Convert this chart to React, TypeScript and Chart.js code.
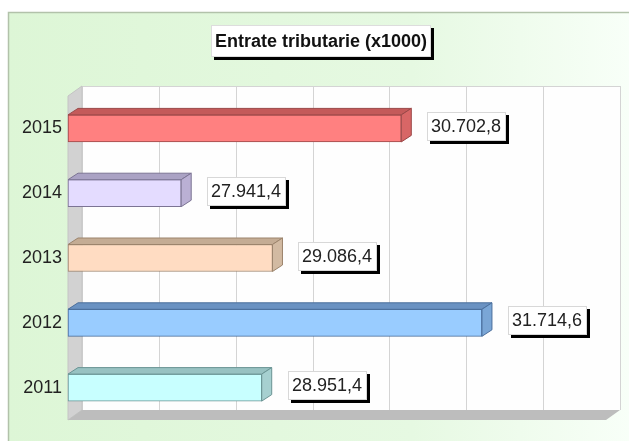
import React, { useEffect, useRef } from 'react';
import { Chart, registerables } from 'chart.js';

Chart.register(...registerables);

// ---- data ----
const years = ['2015', '2014', '2013', '2012', '2011'];
const values = [30702.8, 27941.4, 29086.4, 31714.6, 28951.4];
const titleText = 'Entrate tributarie (x1000)';

// ---- styles ----
const frontColors = ['#ff8080', '#e4dcff', '#ffdcc2', '#99ccff', '#c8ffff'];
const topColors = ['#c45a5a', '#aaa2c4', '#c4ac94', '#6a92c2', '#98c2c2'];
const sideColors = ['#d86666', '#bab0d4', '#d2baa2', '#7aa6d6', '#a6d0d0'];
const borderColors = ['#9a4848', '#7c7494', '#9c846c', '#4a6e9c', '#6a9494'];
const axisMin = 26521;
const axisMax = 33271;
const gridDivisions = 7;

const FONT = '"Liberation Sans", Arial, Helvetica, sans-serif';

function fmt(v: number): string {
  const [i, d] = v.toFixed(1).split('.');
  return i.replace(/\B(?=(\d{3})+(?!\d))/g, '.') + ',' + d;
}

const DEPTH_X = 14;
const DEPTH_Y = -10;
const BAR_DX = 10;
const BAR_DY = -6.5;

const scenePlugin = {
  id: 'scene3d',
  beforeDraw(chart: any) {
    const ctx = chart.ctx as CanvasRenderingContext2D;
    const W = chart.width;
    const H = chart.height;
    ctx.save();
    ctx.fillStyle = '#ffffff';
    ctx.fillRect(0, 0, W, H);
    // panel
    const g = ctx.createLinearGradient(8, 0, W, 0);
    g.addColorStop(0, '#ddf6d6');
    g.addColorStop(0.65, '#e6f9e2');
    g.addColorStop(1, '#f8fff8');
    ctx.fillStyle = g;
    ctx.fillRect(8, 12, W - 8, H - 12);
    ctx.strokeStyle = '#b2c2aa';
    ctx.lineWidth = 1.5;
    ctx.beginPath();
    ctx.moveTo(8.5, H);
    ctx.lineTo(8.5, 12.5);
    ctx.lineTo(W, 12.5);
    ctx.stroke();

    const { left, right, top, bottom } = chart.chartArea;
    // back wall
    const bl = left + DEPTH_X;
    const br = right + DEPTH_X;
    const bt = top + DEPTH_Y;
    const bb = bottom + DEPTH_Y;
    ctx.fillStyle = '#fefefe';
    ctx.fillRect(bl, bt, br - bl, bb - bt);
    ctx.strokeStyle = '#d4d4d4';
    ctx.lineWidth = 1;
    for (let k = 0; k <= gridDivisions; k++) {
      const x = Math.round(bl + ((br - bl) * k) / gridDivisions) + 0.5;
      ctx.beginPath();
      ctx.moveTo(x, bt);
      ctx.lineTo(x, bb);
      ctx.stroke();
    }
    ctx.beginPath();
    ctx.moveTo(bl, bt + 0.5);
    ctx.lineTo(br, bt + 0.5);
    ctx.stroke();
    // left wall
    ctx.fillStyle = '#d2d2d2';
    ctx.beginPath();
    ctx.moveTo(left, top);
    ctx.lineTo(bl, bt);
    ctx.lineTo(bl, bb);
    ctx.lineTo(left, bottom);
    ctx.closePath();
    ctx.fill();
    ctx.strokeStyle = '#c4c4c4';
    ctx.stroke();
    // floor
    ctx.fillStyle = '#bdbdbd';
    ctx.beginPath();
    ctx.moveTo(left, bottom);
    ctx.lineTo(bl, bb);
    ctx.lineTo(br, bb);
    ctx.lineTo(right, bottom);
    ctx.closePath();
    ctx.fill();
    ctx.restore();
  },
  afterDatasetsDraw(chart: any) {
    const ctx = chart.ctx as CanvasRenderingContext2D;
    const meta = chart.getDatasetMeta(0);
    ctx.save();
    meta.data.forEach((el: any, i: number) => {
      const x0 = el.base;
      const x1 = el.x;
      const yt = el.y - el.height / 2;
      const yb = el.y + el.height / 2;
      ctx.lineWidth = 1;
      ctx.strokeStyle = borderColors[i];
      // top face
      ctx.fillStyle = topColors[i];
      ctx.beginPath();
      ctx.moveTo(x0, yt);
      ctx.lineTo(x0 + BAR_DX, yt + BAR_DY);
      ctx.lineTo(x1 + BAR_DX, yt + BAR_DY);
      ctx.lineTo(x1, yt);
      ctx.closePath();
      ctx.fill();
      ctx.stroke();
      // side face
      ctx.fillStyle = sideColors[i];
      ctx.beginPath();
      ctx.moveTo(x1, yt);
      ctx.lineTo(x1 + BAR_DX, yt + BAR_DY);
      ctx.lineTo(x1 + BAR_DX, yb + BAR_DY);
      ctx.lineTo(x1, yb);
      ctx.closePath();
      ctx.fill();
      ctx.stroke();

      // value label box
      const bx = Math.round(x1 + 26);
      const bw = 79;
      const bh = 29;
      const by = Math.round(el.y - 2 - bh / 2);
      ctx.fillStyle = '#000000';
      ctx.fillRect(bx + 3, by + 3, bw, bh);
      ctx.fillStyle = '#ffffff';
      ctx.fillRect(bx, by, bw, bh);
      ctx.strokeStyle = '#d8d8d8';
      ctx.strokeRect(bx + 0.5, by + 0.5, bw - 1, bh - 1);
      ctx.fillStyle = '#222222';
      ctx.font = '18px ' + FONT;
      ctx.textAlign = 'left';
      ctx.textBaseline = 'middle';
      ctx.fillText(fmt(values[i]), bx + 4, by + bh / 2 + 1);
    });
    ctx.restore();
  },
  afterDraw(chart: any) {
    const ctx = chart.ctx as CanvasRenderingContext2D;
    ctx.save();
    ctx.font = 'bold 18px ' + FONT;
    const tw = ctx.measureText(titleText).width;
    const cx = 321;
    const bw = Math.round(tw + 8);
    const bh = 32;
    const bx = Math.round(cx - bw / 2);
    const by = 25;
    ctx.fillStyle = '#000000';
    ctx.fillRect(bx + 3, by + 3, bw, bh);
    ctx.fillStyle = '#ffffff';
    ctx.fillRect(bx, by, bw, bh);
    ctx.strokeStyle = '#dddddd';
    ctx.lineWidth = 1;
    ctx.strokeRect(bx + 0.5, by + 0.5, bw - 1, bh - 1);
    ctx.fillStyle = '#111111';
    ctx.textAlign = 'center';
    ctx.textBaseline = 'middle';
    ctx.fillText(titleText, cx, by + bh / 2 + 1);
    ctx.restore();
  },
};

export default function App() {
  const ref = useRef<HTMLCanvasElement | null>(null);
  useEffect(() => {
    if (!ref.current) return;
    const chart = new Chart(ref.current, {
      type: 'bar',
      data: {
        labels: years,
        datasets: [
          {
            data: values,
            base: axisMin,
            clip: false,
            backgroundColor: frontColors,
            borderColor: borderColors,
            borderWidth: 1,
            borderSkipped: false,
            barThickness: 27,
          },
        ],
      },
      options: {
        indexAxis: 'y',
        responsive: false,
        animation: false,
        devicePixelRatio: 1,
        layout: { padding: { left: 0, right: 23, top: 96, bottom: 21 } },
        plugins: {
          legend: { display: false },
          title: { display: false },
          tooltip: { enabled: false },
        },
        scales: {
          x: {
            type: 'linear',
            display: false,
            min: axisMin,
            max: axisMax,
          },
          y: {
            type: 'category',
            position: 'left',
            grid: { display: false, drawTicks: false },
            border: { display: false },
            ticks: {
              color: '#222222',
              font: { size: 18, family: FONT },
              padding: 6,
            },
            afterFit(scale: any) {
              scale.width = 68;
            },
          },
        },
      },
      plugins: [scenePlugin],
    } as any);
    return () => chart.destroy();
  }, []);
  return (
    <div style={{ position: 'absolute', left: 0, top: 0, width: 629, height: 441 }}>
      <canvas ref={ref} width={629} height={441} style={{ display: 'block' }} />
    </div>
  );
}
